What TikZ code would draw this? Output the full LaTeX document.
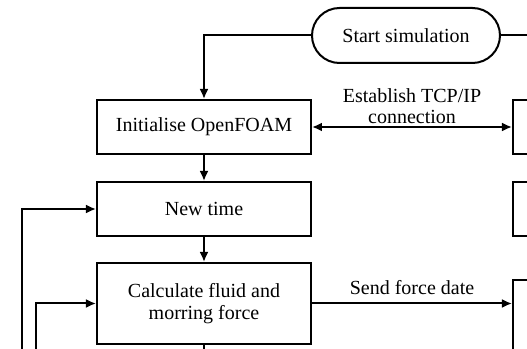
\documentclass[tikz,border=0pt]{standalone}
\usepackage{fontspec}
\setmainfont{Liberation Serif}
\usetikzlibrary{arrows.meta}

\begin{document}
\begin{tikzpicture}[x=0.5pt, y=0.5pt, font=\fontsize{10}{10.5}\selectfont,
        line width=1pt, >={Latex[length=5pt,width=4.5pt]},
        box/.style={draw, rectangle, align=center, inner sep=0pt},
        startbox/.style={draw, rounded corners=13.75pt, minimum width=94pt, minimum height=27.5pt}]
    \useasboundingbox (0,0) rectangle (527,349);
    \clip (0,0) rectangle (527,349);
    \node[startbox] (start) at (406,313.5) {Start simulation};
    \node[box, minimum width=107pt, minimum height=27pt] (init) at (204,222) {Initialise OpenFOAM};
    \node[box, minimum width=107pt, minimum height=27pt] (newt) at (204,140) {New time};
    \node[box, minimum width=107pt, minimum height=40.5pt] (calc) at (204,45.5) {Calculate fluid and\\[0.5pt]morring force};
    \node[box, anchor=west, minimum width=50pt, minimum height=27pt] (tcp) at (512,222) {};
    \node[box, anchor=west, minimum width=50pt, minimum height=27pt] (wait) at (512,140) {};
    \node[box, anchor=north west, minimum width=50pt, minimum height=60pt] (recv) at (512,70) {};
    \coordinate (startout) at (540,313.5);
    \coordinate (loopa) at (22,-10);
    \coordinate (loopb) at (36,-10);
    \coordinate (calcout) at (204,-10);
    \draw[->] (start.west) -| (init.north);
    \draw (start.east) -- (startout);
    \draw[<->] (init.east) -- node[above, align=center, inner sep=1pt] {Establish TCP/IP\\connection} (tcp.west);
    \draw[->] (init) -- (newt);
    \draw[->] (newt) -- (calc);
    \draw[->] (loopa) |- (newt.west);
    \draw[->] (loopb) |- (calc.west);
    \draw (calc.south) -- (calcout);
    \draw[->] (calc.east) -- node[above, inner sep=4pt] {Send force date} (calc.east -| recv.west);
\end{tikzpicture}
\end{document}
